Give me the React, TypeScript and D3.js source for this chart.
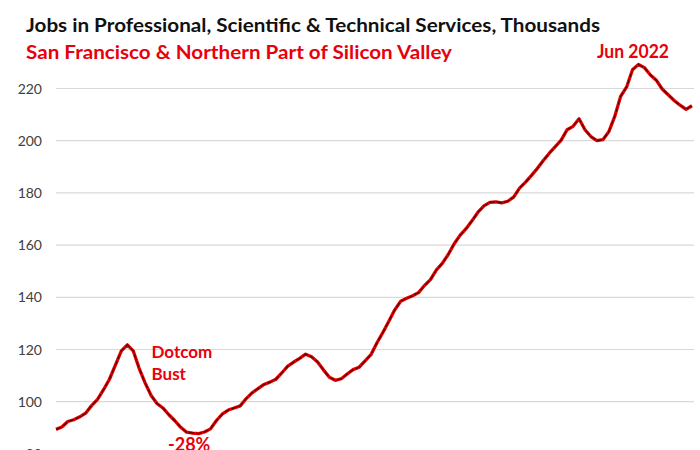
import React from "react";
import * as d3 from "d3";

// Quarterly values, starting Q1 1998 (thousands of jobs)
const startDate = new Date(1998, 0, 1);
const jobs: number[] = [
  89.4, 90.3, 92.4, 93.1, 94.2, 95.6, 98.5, 100.9, 104.6, 108.6, 114, 119.5,
  121.8, 119.5, 112.8, 107.2, 102.4, 99.3, 97.6, 95, 92.7, 90.2, 88.3, 88,
  87.8, 88.4, 89.6, 92.8, 95.3, 96.8, 97.6, 98.4, 101.2, 103.4, 105, 106.6,
  107.5, 108.6, 111, 113.6, 115.2, 116.6, 118.2, 117.2, 115.2, 112.2, 109.4, 108.2,
  108.8, 110.6, 112.3, 113.2, 115.6, 118, 122.5, 126.5, 130.8, 135.2, 138.5, 139.6,
  140.6, 141.8, 144.5, 146.8, 150.5, 153, 156.4, 160.5, 163.8, 166.3, 169.3, 172.6,
  175, 176.4, 176.6, 176.2, 176.8, 178.4, 181.8, 184.1, 186.7, 189.4, 192.4, 195.2,
  197.7, 200.2, 204.2, 205.5, 208.4, 204.2, 201.6, 200, 200.4, 203.4, 209.2, 217,
  220.6, 227.2, 229.2, 228, 225.2, 223.2, 219.8, 217.6, 215.4, 213.6, 212, 213.4,
];
const yTicks: number[] = [80, 100, 120, 140, 160, 180, 200, 220];

const titleText = "Jobs in Professional, Scientific & Technical Services, Thousands";
const subtitleText = "San Francisco & Northern Part of Silicon Valley";
const peakLabel = "Jun 2022";
const bustLabel = ["Dotcom", "Bust"];
const dropLabel = "-28%";

const W = 700;
const H = 450;
const FONT = "Lato, 'Open Sans', sans-serif";
const RED = "#e8000b";

export default function App() {
  const dates = jobs.map((_, i) => d3.timeMonth.offset(startDate, 3 * i));
  const x = d3
    .scaleTime()
    .domain([dates[0], dates[dates.length - 1]])
    .range([56, 692]);
  const y = d3.scaleLinear().domain([80, 220]).range([453.9, 88.5]);
  const line = d3
    .line<number>()
    .x((_, i) => x(dates[i]))
    .y((d) => y(d))
    .curve(d3.curveLinear);
  const path = line(jobs) || "";

  return (
    <svg
      width={W}
      height={H}
      style={{ position: "absolute", left: 0, top: 0, background: "#fff" }}
    >
      <rect x={0} y={0} width={W} height={H} fill="#fff" />
      {yTicks.map((t) => (
        <g key={t}>
          <line x1={56} x2={694} y1={y(t)} y2={y(t)} stroke="#d9d9d9" strokeWidth={1.2} />
          <text
            x={42}
            y={y(t)}
            dy="0.36em"
            textAnchor="end"
            fontFamily={FONT}
            fontSize={14}
            fill="#404040"
          >
            {t}
          </text>
        </g>
      ))}
      <path d={path} fill="none" stroke="#ee0000" strokeWidth={3.3} strokeLinejoin="round" />
      <path
        d={path}
        fill="none"
        stroke="#1a0000"
        strokeWidth={1.3}
        strokeOpacity={0.7}
        strokeDasharray="6 1.5"
        strokeLinejoin="round"
      />
      <text
        x={26}
        y={32}
        fontFamily={FONT}
        fontSize={18}
        fontWeight={700}
        fill="#111"
        textLength={574}
        lengthAdjust="spacingAndGlyphs"
      >
        {titleText}
      </text>
      <text
        x={26}
        y={59}
        fontFamily={FONT}
        fontSize={18}
        fontWeight={700}
        fill={RED}
        textLength={426}
        lengthAdjust="spacingAndGlyphs"
      >
        {subtitleText}
      </text>
      <text
        x={597}
        y={58}
        fontFamily={FONT}
        fontSize={18}
        fontWeight={700}
        fill={RED}
        textLength={72}
        lengthAdjust="spacingAndGlyphs"
      >
        {peakLabel}
      </text>
      {bustLabel.map((s, i) => (
        <text
          key={s}
          x={151.5}
          y={357.5 + i * 22.7}
          fontFamily={FONT}
          fontSize={17}
          fontWeight={700}
          fill={RED}
        >
          {s}
        </text>
      ))}
      <text x={168} y={451} fontFamily={FONT} fontSize={18} fontWeight={700} fill={RED}>
        {dropLabel}
      </text>
    </svg>
  );
}
